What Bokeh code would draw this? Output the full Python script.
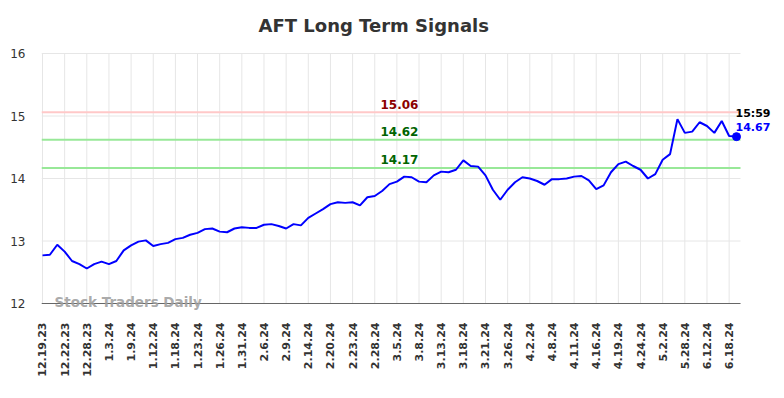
from bokeh.plotting import figure
from bokeh.models import FixedTicker, Label, ColumnDataSource
from bokeh.embed import file_html
from bokeh.resources import INLINE

title = "AFT Long Term Signals"
tick_labels = ["12.19.23", "12.22.23", "12.28.23", "1.3.24", "1.9.24", "1.12.24", "1.18.24",
               "1.23.24", "1.26.24", "1.31.24", "2.6.24", "2.9.24", "2.14.24", "2.20.24",
               "2.23.24", "2.28.24", "3.5.24", "3.8.24", "3.13.24", "3.18.24", "3.21.24",
               "3.26.24", "4.2.24", "4.8.24", "4.11.24", "4.16.24", "4.19.24", "4.24.24",
               "5.2.24", "5.28.24", "6.12.24", "6.18.24"]
prices = [12.77, 12.78, 12.94, 12.83, 12.68, 12.63, 12.56, 12.63, 12.67, 12.63,
          12.68, 12.85, 12.93, 12.99, 13.01, 12.92, 12.95, 12.97, 13.03, 13.05,
          13.10, 13.13, 13.19, 13.20, 13.15, 13.14, 13.20, 13.22, 13.21, 13.21,
          13.26, 13.27, 13.24, 13.20, 13.27, 13.25, 13.37, 13.44, 13.51, 13.59,
          13.62, 13.61, 13.62, 13.57, 13.70, 13.72, 13.80, 13.91, 13.95, 14.03,
          14.02, 13.95, 13.94, 14.05, 14.11, 14.10, 14.14, 14.29, 14.20, 14.19,
          14.05, 13.82, 13.66, 13.82, 13.94, 14.02, 14.00, 13.96, 13.90, 13.99,
          13.99, 14.00, 14.03, 14.04, 13.97, 13.83, 13.89, 14.10, 14.23, 14.27,
          14.20, 14.14, 14.00, 14.07, 14.30, 14.39, 14.95, 14.73, 14.75, 14.90,
          14.84, 14.73, 14.92, 14.68, 14.67]
signal_levels = [15.06, 14.62, 14.17]
signal_labels = ["15.06", "14.62", "14.17"]
signal_line_colors = ["#ffc8c8", "#98e898", "#98e898"]
signal_text_colors = ["#8b0000", "#006400", "#006400"]
last_time = "15:59"
last_price_label = "14.67"
y_ticks = [12, 13, 14, 15, 16]
watermark = "Stock Traders Daily"

n = len(prices)
xs = list(range(n))
tick_pos = [i * 3 for i in range(len(tick_labels))]
font = "DejaVu Sans"

x_lo, x_hi = -0.135, 94.54
y_lo, y_hi = 12, 16

# frame covers the whole top of the canvas so that the title can be drawn as a label
p = figure(width=784, height=398, x_range=(x_lo, 100.5), y_range=(11.84, 16.848),
           output_backend="svg", toolbar_location=None,
           min_border_left=41, min_border_right=0, min_border_top=0, min_border_bottom=85)
p.outline_line_color = None
p.background_fill_color = "white"
p.border_fill_color = "white"

# axes
p.xaxis.ticker = FixedTicker(ticks=tick_pos)
p.xaxis.major_label_overrides = {t: l for t, l in zip(tick_pos, tick_labels)}
p.xaxis.major_label_orientation = 1.5708
p.xaxis.major_label_text_font = font
p.xaxis.major_label_text_font_size = "11px"
p.xaxis.major_label_text_font_style = "bold"
p.xaxis.major_label_text_color = "#333333"
p.xaxis.major_tick_line_color = None
p.xaxis.major_tick_out = 0
p.xaxis.major_tick_in = 0
p.xaxis.minor_tick_line_color = None
p.xaxis.axis_line_color = None
p.xaxis.major_label_standoff = 9

p.yaxis.ticker = FixedTicker(ticks=y_ticks)
p.yaxis.major_label_text_font = font
p.yaxis.major_label_text_font_size = "12px"
p.yaxis.major_label_text_color = "#333333"
p.yaxis.axis_line_color = None
p.yaxis.major_tick_line_color = None
p.yaxis.minor_tick_line_color = None
p.yaxis.major_tick_out = 0
p.yaxis.major_tick_in = 0
p.yaxis.major_label_standoff = 16

p.xgrid.grid_line_color = None
p.ygrid.grid_line_color = None

p.segment(x0=tick_pos, y0=[y_lo] * len(tick_pos), x1=tick_pos, y1=[y_hi] * len(tick_pos),
          line_color="#e6e6e6", line_width=1)
p.segment(x0=[x_lo] * len(y_ticks), y0=y_ticks, x1=[x_hi] * len(y_ticks), y1=y_ticks,
          line_color="#e6e6e6", line_width=1)

for lvl, lc in zip(signal_levels, signal_line_colors):
    p.line([x_lo, x_hi], [lvl, lvl], line_color=lc, line_width=2)

p.line([x_lo, x_hi], [y_lo, y_lo], line_color="#666666", line_width=1)

# title
p.add_layout(Label(x=29.26, y=y_hi, text=title, text_font=font, text_font_size="18px",
                   text_font_style="bold", text_color="#333333", text_align="left",
                   text_baseline="alphabetic", y_offset=28))

label_x = 48.35
for lvl, txt, tc in zip(signal_levels, signal_labels, signal_text_colors):
    p.add_layout(Label(x=label_x, y=lvl, text=txt, text_font=font, text_font_size="12px",
                       text_font_style="bold", text_color=tc, text_align="center",
                       text_baseline="alphabetic", y_offset=8))

src = ColumnDataSource(dict(x=xs, y=prices))
p.line("x", "y", source=src, line_color="#0000ff", line_width=2)
p.scatter([xs[-1]], [prices[-1]], size=8, color="#0000ff")

p.add_layout(Label(x=xs[-1], y=prices[-1], text=last_time, text_font=font, text_font_size="11px",
                   text_font_style="bold", text_color="#000000", text_align="left",
                   text_baseline="alphabetic", x_offset=-1, y_offset=23.5))
p.add_layout(Label(x=xs[-1], y=prices[-1], text=last_price_label, text_font=font, text_font_size="11px",
                   text_font_style="bold", text_color="#0000ff", text_align="left",
                   text_baseline="alphabetic", x_offset=-1, y_offset=10))

p.add_layout(Label(x=1.63, y=y_lo, text=watermark, text_font=font, text_font_size="13.5px",
                   text_font_style="bold", text_color="#a0a0a0", text_alpha=0.9, text_align="left",
                   text_baseline="alphabetic", y_offset=2))

open("out.html", "w").write(file_html(p, INLINE))
